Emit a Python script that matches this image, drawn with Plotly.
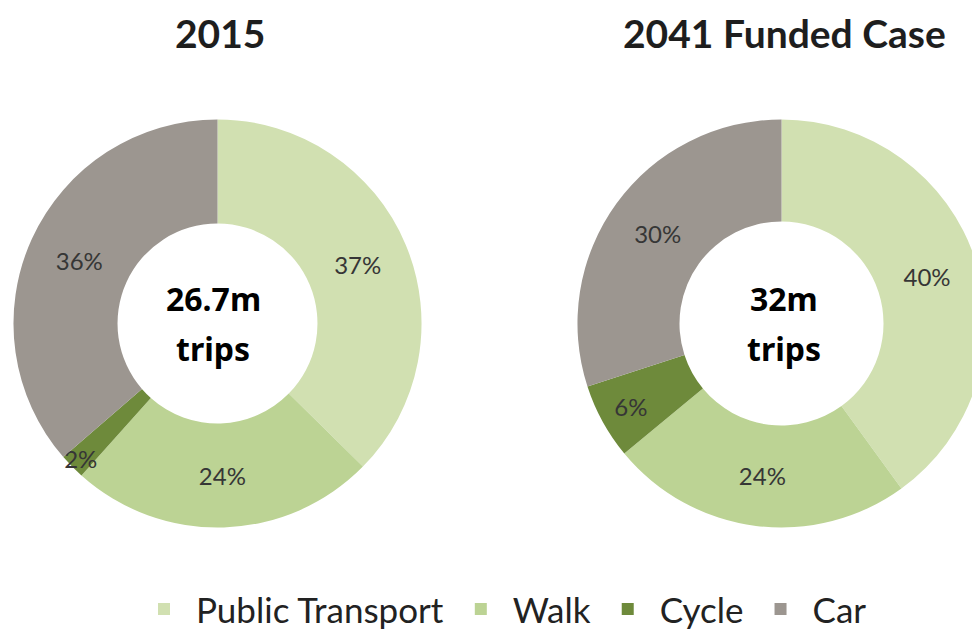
import plotly.graph_objects as go

modes = ["Public Transport", "Walk", "Cycle", "Car"]
share_2015 = [37, 24, 2, 36]
share_2041 = [40, 24, 6, 30]
titles = ["2015", "2041 Funded Case"]
centre_values = ["26.7m", "32m"]
centre_unit = "trips"
colors = ["#d1e0b1", "#bcd394", "#6e8a3b", "#9c9690"]

W, H = 980, 631
OFF = 8  # page body margin of the generated html


def px(x):
    return (x - OFF) / W


def py(y):
    return 1 - (y - OFF) / H


label_font = dict(family="Lato, Open Sans, sans-serif", size=24, color="#363636")

fig = go.Figure()
fig.add_trace(go.Pie(
    labels=modes, values=share_2015, hole=0.49, sort=False,
    direction="clockwise", rotation=0,
    marker=dict(colors=colors, line=dict(width=0)),
    texttemplate="%{value}%", textposition="inside",
    insidetextorientation="horizontal", textfont=label_font,
    domain=dict(x=[px(12), px(423)], y=[py(530), py(120)]),
    hoverinfo="label+value", showlegend=True,
))
fig.add_trace(go.Pie(
    labels=modes, values=share_2041, hole=0.5, sort=False,
    direction="clockwise", rotation=0,
    marker=dict(colors=colors, line=dict(width=0)),
    texttemplate="%{value}%", textposition="inside",
    insidetextorientation="horizontal", textfont=label_font,
    domain=dict(x=[px(575), 1.0], y=[py(530), py(120)]),
    hoverinfo="label+value", showlegend=False,
))

title_font = dict(family="Lato, sans-serif", size=39, color="#1e1e1e")
centre_font = dict(family="Noto Sans, sans-serif", size=32, color="#000000")
annotations = []
for t, cx in zip(titles, [220, 784]):
    annotations.append(dict(text="<b>" + t + "</b>", x=px(cx), y=py(33), xref="paper", yref="paper",
                            showarrow=False, xanchor="center", yanchor="middle", font=title_font))
for v, cx in zip(centre_values, [213, 784]):
    annotations.append(dict(text="<b>" + v + "</b>", x=px(cx), y=py(300), xref="paper", yref="paper",
                            showarrow=False, xanchor="center", yanchor="middle", font=centre_font))
    annotations.append(dict(text="<b>" + centre_unit + "</b>", x=px(cx), y=py(350), xref="paper", yref="paper",
                            showarrow=False, xanchor="center", yanchor="middle", font=centre_font))

fig.update_layout(
    width=W, height=H,
    margin=dict(l=0, r=0, t=0, b=0),
    paper_bgcolor="white", plot_bgcolor="white",
    annotations=annotations,
    uniformtext=dict(minsize=24, mode="show"),
    legend=dict(orientation="h", x=px(502), xanchor="center", y=py(612), yanchor="middle",
                font=dict(family="Lato, sans-serif", size=35, color="#222222"),
                itemwidth=54, traceorder="normal"),
)

fig.write_html("out.html")
